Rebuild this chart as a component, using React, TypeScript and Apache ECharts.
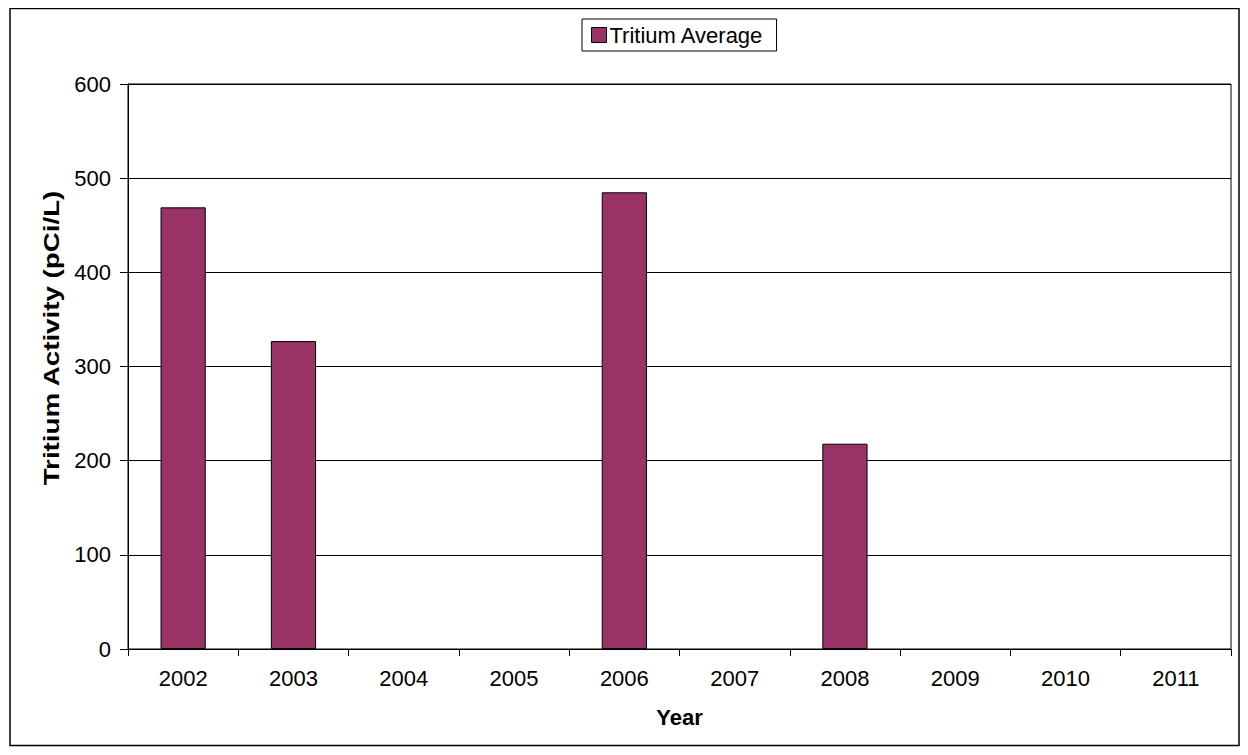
import React, { useEffect, useRef } from "react";
import * as echarts from "echarts";

// Annual tritium averages; empty years have no sample result
const years = ["2002", "2003", "2004", "2005", "2006", "2007", "2008", "2009", "2010", "2011"];
const tritiumAverage: (number | null)[] = [469, 327, null, null, 485, null, 218, null, null, null];
const yTicks = { min: 0, max: 600, interval: 100 };
const yTitle = "Tritium Activity (pCi/L)";

const FONT = "Arial, 'Liberation Sans', sans-serif";

export default function App() {
  const ref = useRef<HTMLDivElement>(null);

  useEffect(() => {
    if (!ref.current) return;
    const chart = echarts.init(ref.current, null, { renderer: "svg" });
    chart.setOption({
      animation: false,
      backgroundColor: "#ffffff",
      textStyle: { fontFamily: FONT, color: "#000" },
      graphic: [
        {
          type: "rect",
          shape: { x: 2, y: 0.5, width: 1229, height: 737 },
          style: { fill: "none", stroke: "#000", lineWidth: 1.5 },
          silent: true,
        },
        {
          // vertical axis title, stretched along its length
          type: "text",
          x: 43,
          y: 330,
          rotation: Math.PI / 2,
          scaleX: 1.26,
          style: {
            text: yTitle,
            fontFamily: FONT,
            fontSize: 22,
            fontWeight: "bold",
            fill: "#000",
            align: "center",
            verticalAlign: "middle",
          },
          silent: true,
        },
      ],
      legend: {
        left: 574,
        top: 11,
        orient: "horizontal",
        backgroundColor: "#fff",
        borderColor: "#000",
        borderWidth: 1,
        padding: [5, 13, 5, 9],
        itemWidth: 15,
        itemHeight: 15,
        itemGap: 6,
        icon: "rect",
        textStyle: { fontFamily: FONT, fontSize: 22, color: "#000", padding: [0, 0, 0, -2] },
        data: [{ name: "Tritium Average", itemStyle: { borderColor: "#000", borderWidth: 1 } }],
      },
      grid: {
        left: 120,
        top: 76,
        right: 9,
        bottom: 98,
        show: true,
        borderColor: "#000",
        borderWidth: 1,
        containLabel: false,
      },
      xAxis: {
        type: "category",
        data: years,
        name: "Year",
        nameLocation: "middle",
        nameGap: 57,
        nameTextStyle: { fontFamily: FONT, fontSize: 22, fontWeight: "bold", color: "#000" },
        axisLine: { show: true, lineStyle: { color: "#000", width: 1 } },
        axisTick: { show: true, alignWithLabel: false, length: 7, lineStyle: { color: "#000" } },
        axisLabel: { fontFamily: FONT, fontSize: 22, color: "#000", margin: 18 },
        splitLine: { show: false },
      },
      yAxis: {
        type: "value",
        min: yTicks.min,
        max: yTicks.max,
        interval: yTicks.interval,
        axisLine: { show: true, lineStyle: { color: "#000", width: 1 } },
        axisTick: { show: true, length: 8, lineStyle: { color: "#000" } },
        axisLabel: { fontFamily: FONT, fontSize: 22, color: "#000", margin: 17 },
        splitLine: { show: true, lineStyle: { color: "#000", width: 1 } },
      },
      series: [
        {
          name: "Tritium Average",
          type: "bar",
          data: tritiumAverage,
          barWidth: "41%",
          itemStyle: { color: "#993366", borderColor: "#000", borderWidth: 1 },
        },
      ],
    });
    return () => chart.dispose();
  }, []);

  return <div ref={ref} style={{ width: 1232, height: 739 }} />;
}
